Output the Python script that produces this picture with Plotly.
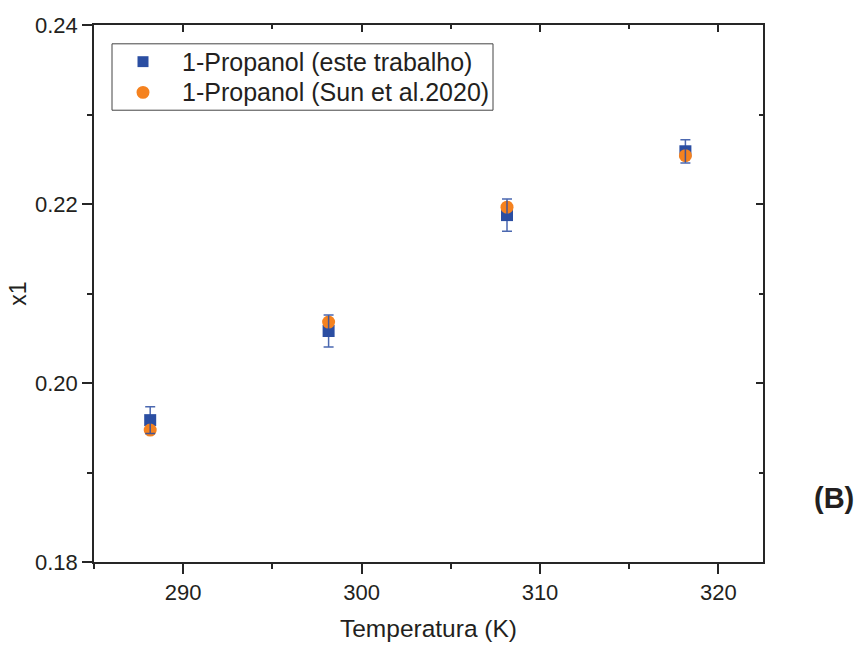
import plotly.graph_objects as go

temps = [288.15, 298.15, 308.15, 318.15]
x1_this = [0.19585, 0.20581, 0.21876, 0.22589]
x1_err = [0.0015, 0.0018, 0.0018, 0.0013]
x1_sun = [0.19474, 0.20681, 0.21964, 0.22540]

name_this = "1-Propanol (este trabalho)"
name_sun = "1-Propanol (Sun et al.2020)"

blue = "#2b4ea2"
orange = "#f5821f"
axis_col = "#262626"
FONT = "Liberation Sans, Arial, sans-serif"

L, R, T, B = 94, 94, 25, 83
W, H = 857, 650
PW, PH = W - L - R, H - T - B


def px(xp):
    return (xp - L) / PW


def py(yp):
    return (H - B - yp) / PH


fig = go.Figure()
fig.add_trace(go.Scatter(x=temps, y=x1_this, mode="markers", name=name_this,
                         showlegend=False,
                         marker=dict(symbol="square", size=12, color=blue)))
fig.add_trace(go.Scatter(x=temps, y=x1_sun, mode="markers", name=name_sun,
                         showlegend=False,
                         marker=dict(symbol="circle", size=13, color=orange)))
# error bars drawn on top
fig.add_trace(go.Scatter(x=temps, y=x1_this, mode="markers", showlegend=False,
                         marker=dict(size=1, opacity=0),
                         error_y=dict(type="data", array=x1_err, visible=True,
                                      color="rgba(43,78,162,0.85)", thickness=1.5, width=5),
                         hoverinfo="skip"))
# invisible trace for mirrored inside ticks on top/right
fig.add_trace(go.Scatter(x=[temps[0]], y=[x1_this[0]], xaxis="x2", yaxis="y2",
                         mode="markers", marker=dict(opacity=0), showlegend=False,
                         hoverinfo="skip"))

xr = [285, 322.5]
yr = [0.18, 0.24]
common = dict(showgrid=False, zeroline=False, linecolor=axis_col, linewidth=1.5,
              tickcolor=axis_col, tickwidth=1.5)

# manual legend (box, symbols, text)
shapes = [
    dict(type="rect", xref="paper", yref="paper", x0=px(112), x1=px(493),
         y0=py(111), y1=py(44), line=dict(color="#444", width=1), fillcolor="white",
         layer="above"),
    dict(type="rect", xref="paper", yref="paper", x0=px(137.5), x1=px(148.5),
         y0=py(67.5), y1=py(56.5), line=dict(width=0), fillcolor=blue, layer="above"),
    dict(type="circle", xref="paper", yref="paper", x0=px(136.5), x1=px(149.5),
         y0=py(99.5), y1=py(86.5), line=dict(width=0), fillcolor=orange, layer="above"),
]
annotations = [
    dict(text=name_this, x=px(180), y=py(62), xref="paper", yref="paper",
         xanchor="left", yanchor="middle", showarrow=False,
         font=dict(size=25, family=FONT, color="#231f20")),
    dict(text=name_sun, x=px(180), y=py(93), xref="paper", yref="paper",
         xanchor="left", yanchor="middle", showarrow=False,
         font=dict(size=25, family=FONT, color="#231f20")),
    dict(text="<b>(B)</b>", x=px(834), y=py(502), xref="paper", yref="paper",
         xanchor="center", yanchor="middle", showarrow=False,
         font=dict(size=29, family=FONT, color="#231f20")),
]

fig.update_layout(
    width=W, height=H,
    margin=dict(l=L, r=R, t=T, b=B),
    paper_bgcolor="white", plot_bgcolor="white",
    font=dict(family=FONT, color="#231f20", size=22),
    showlegend=False,
    xaxis=dict(range=xr, ticks="outside", ticklen=10, dtick=10, tick0=290,
               showline=True,
               minor=dict(ticks="outside", ticklen=5, dtick=5, tick0=285,
                          tickcolor=axis_col, tickwidth=1.5),
               tickfont=dict(size=22),
               title=dict(text="Temperatura (K)", font=dict(size=24.5), standoff=16),
               **common),
    yaxis=dict(range=yr, ticks="outside", ticklen=10, dtick=0.02, tick0=0.18,
               tickformat=".2f", showline=True,
               minor=dict(ticks="outside", ticklen=5, dtick=0.01, tick0=0.18,
                          tickcolor=axis_col, tickwidth=1.5),
               tickfont=dict(size=22),
               title=dict(text="x1", font=dict(size=23), standoff=2),
               **common),
    xaxis2=dict(range=xr, overlaying="x", side="top", ticks="inside", ticklen=7,
                dtick=10, tick0=290, showticklabels=False, showline=True,
                minor=dict(ticks="inside", ticklen=4, dtick=5, tick0=285,
                           tickcolor=axis_col, tickwidth=1.5),
                **common),
    yaxis2=dict(range=yr, overlaying="y", side="right", ticks="inside", ticklen=7,
                dtick=0.02, tick0=0.18, showticklabels=False, showline=True,
                minor=dict(ticks="inside", ticklen=4, dtick=0.01, tick0=0.18,
                           tickcolor=axis_col, tickwidth=1.5),
                **common),
    shapes=shapes,
    annotations=annotations,
)

fig.write_html("out.html")
